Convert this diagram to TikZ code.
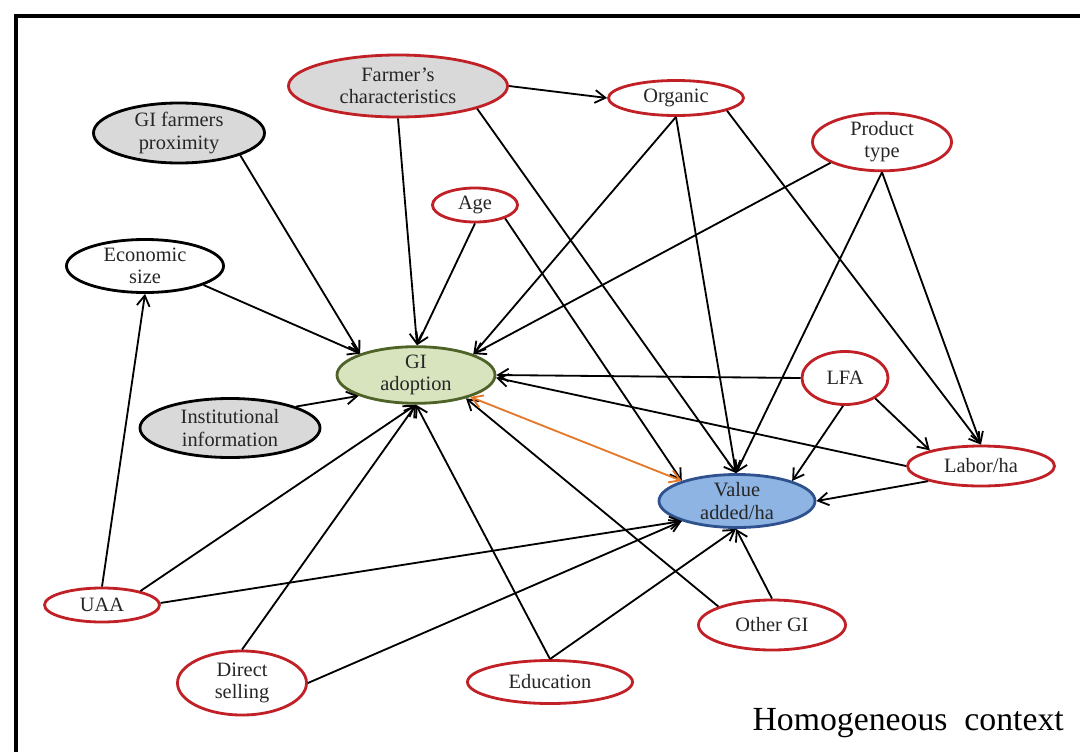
\documentclass[tikz,border=0pt]{standalone}
\usepackage{fontspec}
\setmainfont{Liberation Serif}
\usepackage{tikz}
\usetikzlibrary{arrows.meta,shapes.geometric}

\definecolor{redline}{RGB}{192,32,38}
\definecolor{greyfill}{RGB}{217,217,217}
\definecolor{greenfill}{RGB}{215,228,189}
\definecolor{greenline}{RGB}{79,98,40}
\definecolor{bluefill}{RGB}{141,180,226}
\definecolor{blueline}{RGB}{47,82,143}
\definecolor{orangeline}{RGB}{228,120,40}
\newcommand{\varfont}{\fontsize{14.5}{15.8}\selectfont}

\tikzset{
  var/.style={ellipse, draw=redline, line width=2pt, fill=white, inner sep=0pt,
    align=center, font=\varfont, text=black!85},
  plain/.style={draw=black},
  shaded/.style={fill=greyfill},
  size/.style 2 args={minimum width=#1cm, minimum height=#2cm}
}

\begin{document}
\begin{tikzpicture}[x=0.025cm, y=-0.025cm, ->, >={Straight Barb[length=2.6mm,width=3.2mm]},
    line width=1.3pt]

  \useasboundingbox (0,0) rectangle (1080,751);
  \clip (0,0) rectangle (1080,751);
  \draw[-, line width=3.5pt] (16,16) rectangle (1100,770);

  \node[var, shaded, size={5.475}{1.55}] (fc) at (398,86) {Farmer’s\\characteristics};
  \node[var, plain, shaded, size={4.275}{1.5}] (prox) at (179,133) {GI farmers\\proximity};
  \node[var, size={3.375}{0.875}] (org) at (676,98) {Organic};
  \node[var, size={3.475}{1.325}] (pt) at (882,142) {Product\\type};
  \node[var, size={2.125}{0.85}] (age) at (475,205) {Age};
  \node[var, plain, size={3.925}{1.325}] (eco) at (145,266) {Economic\\size};
  \node[var, draw=greenline, fill=greenfill, size={3.95}{1.35}] (gi) at (416,375) {GI\\adoption};
  \node[var, plain, shaded, size={4.5}{1.475}] (inst) at (230,428) {Institutional\\information};
  \node[var, size={2.15}{1.325}] (lfa) at (845,378) {LFA};
  \node[var, size={3.675}{1.0}] (lab) at (981,466) {Labor/ha};
  \node[var, draw=blueline, fill=bluefill, size={3.9}{1.325}] (va) at (737,501) {Value\\added/ha};
  \node[var, size={2.875}{0.85}] (uaa) at (102,605) {UAA};
  \node[var, size={3.225}{1.6}] (ds) at (242,683) {Direct\\selling};
  \node[var, size={4.125}{1.075}] (edu) at (550,682) {Education};
  \node[var, size={3.675}{1.25}] (ogi) at (772,625) {Other GI};

  \node[anchor=base west, font=\fontsize{24}{27}\selectfont] (ctx) at (747,730) {Homogeneous\ \ context};

  % into GI adoption
  \path
    (prox.-20) edge (gi.159)
    (eco.-18) edge (gi.159)
    (fc.270) edge (gi.88)
    (age.270) edge (gi.88)
    (org.270) edge (gi.20)
    (pt.202) edge (gi.20)
    (inst.18) edge (gi.200)
    (lfa.180) edge (gi.0)
    (lab.180) edge (gi.-2)
    (uaa.20) edge (gi.270)
    (ds.90) edge (gi.270)
    (edu.90) edge (gi.270)
    (ogi.161) edge (gi.-25);

  % into value added
  \path
    (fc.-16) edge (va.92)
    (age.-24) edge (va.160)
    (org.270) edge (va.92)
    (pt.270) edge (va.92)
    (lfa.266) edge (va.20)
    (lab.196) edge (va.0)
    (uaa.2) edge (va.200)
    (ds.0) edge (va.200)
    (edu.90) edge (va.268)
    (ogi.90) edge (va.268);

  % into labor and the rest
  \path
    (org.-14) edge (lab.90)
    (pt.270) edge (lab.90)
    (lfa.-34) edge (lab.163)
    (fc.0) edge (org.180)
    (uaa.90) edge (eco.270);

  \draw[<->, draw=orangeline] (gi.-22) -- (va.160);

\end{tikzpicture}
\end{document}
